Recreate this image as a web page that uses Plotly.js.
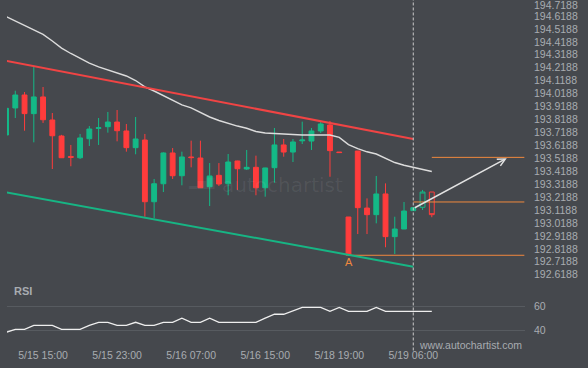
<!DOCTYPE html>
<html>
<head>
<meta charset="utf-8">
<script src="https://cdn.plot.ly/plotly-3.0.1.min.js"></script>
<style>
  html, body { margin: 0; padding: 0; background: #45484d; }
  #chart { width: 588px; height: 368px; }
</style>
</head>
<body>
<div id="chart"></div>
<script>
// ---- Data (hourly candles, index = bar number) ----
const openP  = [193.699,193.908,194.008,193.864,193.993,193.815,193.691,193.533,193.523,193.670,
                193.750,193.763,193.799,193.730,193.601,193.660,193.183,193.322,193.560,193.384,
                193.529,193.521,193.299,193.387,193.322,193.498,193.436,193.449,193.291,193.446,
                193.622,193.567,193.654,193.652,193.730,193.776,193.567,193.065,193.575,193.134,
                193.083,193.243,192.913,192.972,193.114];
const highP  = [193.905,194.041,194.031,194.227,194.070,193.869,193.700,193.622,193.707,193.768,
                193.830,193.877,193.892,193.784,193.838,193.707,193.359,193.565,193.598,193.570,
                193.655,193.655,193.482,193.482,193.552,193.500,193.583,193.539,193.446,193.753,
                193.668,193.668,193.802,193.753,193.802,193.807,193.567,193.065,193.575,193.209,
                193.382,193.325,193.067,193.181,193.137];
const lowP   = [193.699,193.830,193.732,193.642,193.792,193.436,193.521,193.457,193.513,193.614,
                193.622,193.717,193.650,193.570,193.550,193.067,193.055,193.258,193.359,193.310,
                193.449,193.289,193.150,193.305,193.233,193.274,193.428,193.233,193.222,193.330,
                193.531,193.490,193.629,193.583,193.714,193.376,193.563,192.769,192.933,192.933,
                193.016,192.831,192.779,192.972,193.114];
const closeP = [193.905,194.008,193.864,193.993,193.817,193.693,193.523,193.526,193.676,193.745,
                193.755,193.799,193.732,193.601,193.668,193.183,193.322,193.560,193.384,193.529,
                193.524,193.291,193.382,193.320,193.490,193.438,193.449,193.291,193.444,193.622,
                193.567,193.645,193.660,193.730,193.784,193.578,193.563,192.769,193.137,193.083,
                193.243,192.913,192.972,193.111,193.137];

// current / forming candles (drawn hollow)
const liveX     = [45, 46];
const liveOpen  = [193.140, 193.258];
const liveHigh  = [193.274, 193.258];
const liveLow   = [193.119, 193.063];
const liveClose = [193.258, 193.083];

// moving average
const maValues = [194.615,194.580,194.549,194.514,194.477,194.426,194.371,194.329,194.292,194.255,
                  194.225,194.201,194.182,194.155,194.120,194.071,194.039,194.004,193.966,193.931,
                  193.908,193.870,193.838,193.811,193.788,193.768,193.751,193.726,193.714,193.712,
                  193.707,193.703,193.699,193.699,193.699,193.699,193.680,193.625,193.594,193.569,
                  193.552,193.521,193.486,193.465,193.449,193.432,193.417];

// RSI
const rsiValues = [38.4,40.8,40.8,44.1,44.1,44.1,40.8,40.8,40.8,44.1,
                   46.6,46.6,44.1,44.1,46.6,44.1,44.1,46.6,46.6,49.9,
                   46.6,46.6,49.9,46.6,46.6,46.6,46.6,46.6,50.0,53.2,
                   53.2,56.0,58.9,58.9,58.9,55.6,58.9,55.6,55.6,55.6,
                   58.9,55.6,55.6,55.6,55.6,55.6,55.6];

// channel trendlines
const resistX = [0, 44];
const resistY = [194.273, 193.668];
const supportX = [0, 44];
const supportY = [193.256, 192.681];

// horizontal levels
const levelTopX = [46, 56];  const levelTopY = [193.526, 193.526];
const levelMidX = [44, 56];  const levelMidY = [193.181, 193.181];
const levelLowX = [37, 56];  const levelLowY = [192.769, 192.769];

// forecast arrow (from, to)
const forecastX = [44, 54.1];
const forecastY = [193.13, 193.52];

// pattern point "A"
const pointAX = 37, pointAY = 192.769;

// current bar marker
const nowX = 44;

// axes ticks
const priceTicks = [192.6188,192.7188,192.8188,192.9188,193.0188,193.1188,193.2188,193.3188,
                    193.4188,193.5188,193.6188,193.7188,193.8188,193.9188,194.0188,194.1188,
                    194.2188,194.3188,194.4188,194.5188,194.6188,194.7188];
const rsiTicks = [40, 60];
const timeTickIdx = [4, 12, 20, 28, 36, 44];
const timeTickLabels = ['5/15 15:00','5/15 23:00','5/16 07:00','5/16 15:00','5/18 19:00','5/19 06:00'];

// ---- Styles ----
const BG = '#45484d';
const GREEN = '#14b987';
const RED = '#ff3c3c';
const ORANGE = '#f0883e';
const TXT = '#a8acb1';
const FONT = 'Liberation Sans, Arial, sans-serif';

const idx = openP.map((_, i) => i);
const maIdx = maValues.map((_, i) => i);
const rsiIdx = rsiValues.map((_, i) => i);

// the topmost price label sits at the very edge of the chart; like the source, nudge it inside
const axisTicks = priceTicks.slice(0, -1);
const topTick = priceTicks[priceTicks.length - 1];

const traces = [
  { type: 'scatter', mode: 'lines', x: levelLowX, y: levelLowY, line: {color: ORANGE, width: 1}, xaxis: 'x', yaxis: 'y', hoverinfo: 'skip' },
  { type: 'scatter', mode: 'lines', x: levelMidX, y: levelMidY, line: {color: ORANGE, width: 1}, xaxis: 'x', yaxis: 'y', hoverinfo: 'skip' },
  { type: 'scatter', mode: 'lines', x: levelTopX, y: levelTopY, line: {color: ORANGE, width: 1}, xaxis: 'x', yaxis: 'y', hoverinfo: 'skip' },
  { type: 'scatter', mode: 'lines', x: maIdx, y: maValues, line: {color: '#dcdcdc', width: 1.4}, xaxis: 'x', yaxis: 'y', hoverinfo: 'skip' },
  { type: 'candlestick', x: idx, open: openP, high: highP, low: lowP, close: closeP,
    increasing: {line: {color: GREEN, width: 1}, fillcolor: GREEN},
    decreasing: {line: {color: RED, width: 1}, fillcolor: RED},
    whiskerwidth: 0, xaxis: 'x', yaxis: 'y', hoverinfo: 'skip' },
  { type: 'candlestick', x: liveX, open: liveOpen, high: liveHigh, low: liveLow, close: liveClose,
    increasing: {line: {color: GREEN, width: 1}, fillcolor: 'rgba(0,0,0,0)'},
    decreasing: {line: {color: RED, width: 1}, fillcolor: 'rgba(0,0,0,0)'},
    whiskerwidth: 0, xaxis: 'x', yaxis: 'y', hoverinfo: 'skip' },
  { type: 'scatter', mode: 'lines', x: resistX, y: resistY, line: {color: '#f04444', width: 2}, xaxis: 'x', yaxis: 'y', hoverinfo: 'skip' },
  { type: 'scatter', mode: 'lines', x: supportX, y: supportY, line: {color: '#17b584', width: 2}, xaxis: 'x', yaxis: 'y', hoverinfo: 'skip' },
  { type: 'scatter', mode: 'lines', x: rsiIdx, y: rsiValues, line: {color: '#eeeeee', width: 1.3}, xaxis: 'x', yaxis: 'y2', hoverinfo: 'skip' }
];

const layout = {
  width: 588, height: 368,
  margin: {l: 7, r: 63, t: 0, b: 21, pad: 0},
  paper_bgcolor: BG, plot_bgcolor: BG,
  showlegend: false,
  boxgap: 0.25,
  font: {family: FONT, size: 10.5, color: TXT},
  xaxis: {
    range: [0.104, 56.07], anchor: 'y2',
    showgrid: false, zeroline: false, showline: false, ticks: '',
    tickmode: 'array', tickvals: timeTickIdx, ticktext: timeTickLabels,
    tickfont: {family: FONT, size: 10.5, color: TXT},
    rangeslider: {visible: false}, fixedrange: true
  },
  yaxis: {
    domain: [0.18732, 1], range: [192.5624, 194.7425], side: 'right', anchor: 'x',
    showgrid: false, zeroline: false, showline: false, ticks: '',
    tickmode: 'array', tickvals: axisTicks, tickformat: '.4f',
    ticklabelstandoff: 8,
    tickfont: {family: FONT, size: 10.5, color: TXT}, fixedrange: true
  },
  yaxis2: {
    domain: [0, 0.17867], range: [26.26, 77.28], side: 'right', anchor: 'x',
    showgrid: true, gridcolor: '#575b60', gridwidth: 1, zeroline: false, showline: false, ticks: '',
    tickmode: 'array', tickvals: rsiTicks,
    ticklabelstandoff: 8,
    tickfont: {family: FONT, size: 10.5, color: TXT}, fixedrange: true
  },
  shapes: [
    { type: 'line', xref: 'x', yref: 'paper', x0: nowX, x1: nowX, y0: -0.01, y1: 1,
      line: {color: '#c9c9c9', width: 1, dash: '3px,2px'} }
  ],
  annotations: [
    { xref: 'paper', yref: 'y', x: 1, y: topTick, xshift: 8, yshift: -1.5, text: topTick.toFixed(4),
      showarrow: false, xanchor: 'left', yanchor: 'middle', borderpad: 0,
      font: {family: FONT, size: 10.5, color: TXT} },
    { xref: 'paper', yref: 'paper', x: 0.531, y: 0.467, text: 'autochartist', showarrow: false,
      font: {family: 'DejaVu Sans', size: 20, color: 'rgba(255,255,255,0.07)'}, xanchor: 'center', yanchor: 'middle' },
    { xref: 'paper', yref: 'paper', x: 0.376, y: 0.475, text: '▂▅▇', showarrow: false,
      font: {family: 'DejaVu Sans', size: 11, color: 'rgba(255,255,255,0.07)'}, xanchor: 'center', yanchor: 'middle' },
    { xref: 'x', yref: 'y', x: forecastX[1], y: forecastY[1], ax: forecastX[0], ay: forecastY[0],
      axref: 'x', ayref: 'y', text: '', showarrow: true, arrowhead: 5, arrowsize: 1,
      arrowwidth: 1.5, arrowcolor: '#e2e2e2', standoff: 0, startstandoff: 0 },
    { xref: 'x', yref: 'y', x: pointAX, y: pointAY, text: 'A', showarrow: false, yshift: -7,
      font: {family: FONT, size: 11, color: ORANGE}, xanchor: 'center', yanchor: 'middle' },
    { xref: 'paper', yref: 'paper', x: 0.0309, y: 0.1614, text: '<b>RSI</b>', showarrow: false,
      font: {family: FONT, size: 11, color: TXT}, xanchor: 'center', yanchor: 'middle' },
    { xref: 'paper', yref: 'paper', x: 0.8948, y: 0.006, text: 'www.autochartist.com', showarrow: false,
      font: {family: FONT, size: 10.5, color: TXT}, xanchor: 'center', yanchor: 'middle' }
  ]
};

Plotly.newPlot('chart', traces, layout, {staticPlot: true, displayModeBar: false});
</script>
</body>
</html>
